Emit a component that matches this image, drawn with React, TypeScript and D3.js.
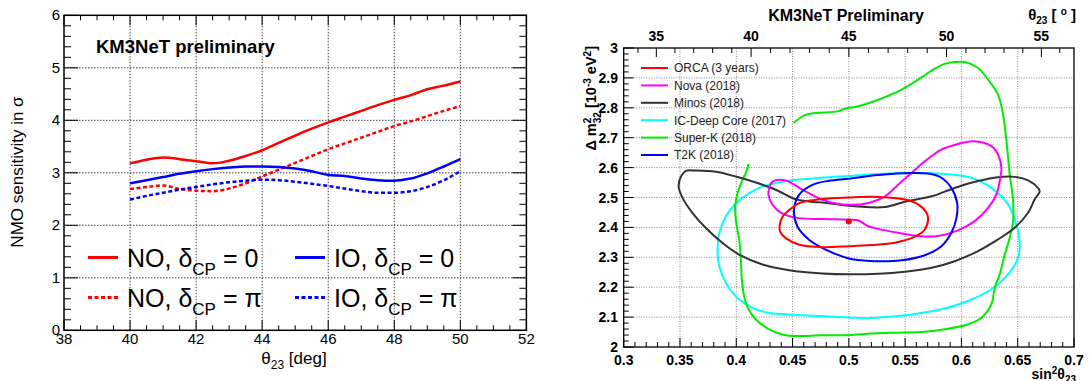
import React from 'react';
import * as d3 from 'd3';

const FONT = 'Liberation Sans, Arial, Helvetica, sans-serif';

// ---------- Left panel data ----------
const thetaGrid = [40, 40.5, 41, 41.5, 42, 42.5, 43, 43.5, 44, 44.5, 45, 45.5, 46, 46.5, 47, 47.5, 48, 48.5, 49, 49.5, 50];
const noDelta0 = [3.18, 3.25, 3.29, 3.26, 3.22, 3.18, 3.23, 3.32, 3.43, 3.57, 3.71, 3.84, 3.96, 4.07, 4.18, 4.29, 4.39, 4.48, 4.59, 4.66, 4.74];
const noDeltaPi = [2.69, 2.73, 2.76, 2.69, 2.66, 2.65, 2.7, 2.8, 2.93, 3.06, 3.19, 3.32, 3.45, 3.56, 3.67, 3.78, 3.89, 3.98, 4.08, 4.18, 4.27];
const ioDelta0 = [2.8, 2.86, 2.92, 2.98, 3.03, 3.07, 3.1, 3.12, 3.12, 3.11, 3.08, 3.03, 2.96, 2.94, 2.89, 2.86, 2.85, 2.89, 2.99, 3.12, 3.26];
const ioDeltaPi = [2.49, 2.56, 2.62, 2.68, 2.73, 2.78, 2.82, 2.85, 2.87, 2.86, 2.83, 2.79, 2.75, 2.7, 2.65, 2.62, 2.62, 2.65, 2.73, 2.86, 3.03];
const leftXTicks = [38, 40, 42, 44, 46, 48, 50, 52];
const leftYTicks = [0, 1, 2, 3, 4, 5, 6];

// ---------- Right panel data ----------
const orcaContour: [number, number][] = [
  [0.4386, 2.409], [0.441, 2.435], [0.447, 2.458], [0.456, 2.481], [0.476, 2.495], [0.5, 2.5], [0.526, 2.502],
  [0.55, 2.493], [0.5615, 2.477], [0.569, 2.449], [0.5704, 2.427], [0.5675, 2.393], [0.5586, 2.369], [0.541, 2.349],
  [0.52, 2.341], [0.5, 2.337], [0.476, 2.334], [0.456, 2.342], [0.444, 2.364], [0.439, 2.385],
];
const novaContour: [number, number][] = [
  [0.4286, 2.509], [0.4292, 2.531], [0.4321, 2.553], [0.4439, 2.557], [0.4587, 2.526], [0.4764, 2.492], [0.4912, 2.478],
  [0.5, 2.476], [0.514, 2.479], [0.532, 2.504], [0.5438, 2.543], [0.5556, 2.582], [0.5675, 2.621], [0.5822, 2.66],
  [0.597, 2.679], [0.6104, 2.688], [0.6266, 2.672], [0.6325, 2.644], [0.6355, 2.599], [0.634, 2.555], [0.631, 2.51],
  [0.6237, 2.465], [0.6118, 2.421], [0.597, 2.39], [0.5793, 2.371], [0.5615, 2.371], [0.5438, 2.382], [0.526, 2.395],
  [0.5172, 2.404], [0.508, 2.424], [0.5, 2.426], [0.4764, 2.428], [0.4558, 2.431], [0.441, 2.446], [0.4321, 2.476],
];
const minosContour: [number, number][] = [
  [0.3488, 2.537], [0.3509, 2.57], [0.3553, 2.589], [0.3642, 2.59], [0.3819, 2.586], [0.3996, 2.57], [0.4174, 2.55],
  [0.4351, 2.526], [0.4528, 2.494], [0.4646, 2.487], [0.4823, 2.481], [0.5, 2.472], [0.532, 2.468], [0.5497, 2.486],
  [0.5734, 2.504], [0.594, 2.532], [0.6148, 2.555], [0.6325, 2.568], [0.6473, 2.569], [0.6592, 2.557], [0.668, 2.532],
  [0.6695, 2.521], [0.665, 2.493], [0.6592, 2.449], [0.6473, 2.399], [0.6325, 2.36], [0.6148, 2.321], [0.594, 2.287],
  [0.5734, 2.265], [0.5497, 2.252], [0.526, 2.245], [0.5, 2.243], [0.4764, 2.246], [0.4469, 2.257], [0.4233, 2.276],
  [0.4026, 2.309], [0.3878, 2.348], [0.373, 2.398], [0.3612, 2.448], [0.3524, 2.498],
];
const deepCoreContour: [number, number][] = [
  [0.3834, 2.326], [0.3849, 2.381], [0.3908, 2.437], [0.3996, 2.481], [0.4114, 2.514], [0.4233, 2.537], [0.441, 2.553],
  [0.4587, 2.561], [0.4823, 2.568], [0.5, 2.572], [0.526, 2.579], [0.5556, 2.582], [0.5852, 2.579], [0.6089, 2.566],
  [0.6266, 2.532], [0.6414, 2.477], [0.6488, 2.41], [0.6518, 2.343], [0.6503, 2.298], [0.6414, 2.243], [0.6266, 2.193],
  [0.6059, 2.154], [0.5822, 2.126], [0.5556, 2.109], [0.532, 2.1], [0.5142, 2.096], [0.5, 2.099], [0.4764, 2.103],
  [0.4469, 2.109], [0.4292, 2.114], [0.4144, 2.131], [0.4011, 2.164], [0.3908, 2.214], [0.3849, 2.27],
];
const superKCurve: [number, number][] = [
  [0.451, 2.749], [0.462, 2.777], [0.49, 2.788], [0.4964, 2.797], [0.5083, 2.805], [0.526, 2.827], [0.5438, 2.855],
  [0.5615, 2.894], [0.5763, 2.931], [0.5852, 2.947], [0.5941, 2.953], [0.603, 2.953], [0.6148, 2.933], [0.6237, 2.894],
  [0.6325, 2.844], [0.637, 2.777], [0.64, 2.688], [0.6429, 2.577], [0.6459, 2.488], [0.6459, 2.421], [0.6429, 2.365],
  [0.6385, 2.31], [0.634, 2.243], [0.6296, 2.198], [0.6266, 2.143], [0.6178, 2.098], [0.6059, 2.076], [0.5852, 2.059],
  [0.5675, 2.051], [0.5408, 2.048], [0.5201, 2.045], [0.5, 2.04], [0.4764, 2.039], [0.4498, 2.037], [0.441, 2.042],
  [0.4292, 2.059], [0.4174, 2.092], [0.4109, 2.126], [0.407, 2.17], [0.4049, 2.226], [0.4041, 2.292], [0.4026, 2.359],
  [0.3996, 2.426], [0.399, 2.47], [0.4011, 2.514], [0.4055, 2.559], [0.409, 2.587], [0.4109, 2.612],
];
const t2kContour: [number, number][] = [
  [0.4513, 2.459], [0.4558, 2.509], [0.4676, 2.542], [0.4823, 2.556], [0.5, 2.563], [0.526, 2.575], [0.5556, 2.582],
  [0.5704, 2.58], [0.5822, 2.566], [0.5911, 2.532], [0.5962, 2.482], [0.5956, 2.432], [0.5911, 2.382], [0.5822, 2.337],
  [0.5675, 2.307], [0.5467, 2.29], [0.523, 2.287], [0.508, 2.291], [0.5, 2.296], [0.4794, 2.326], [0.4646, 2.359],
  [0.4543, 2.403],
];
const bestFit: [number, number] = [0.5, 2.42];
const rightXTicks = [0.3, 0.35, 0.4, 0.45, 0.5, 0.55, 0.6, 0.65, 0.7];
const rightXTickLabels = ['0.3', '0.35', '0.4', '0.45', '0.5', '0.55', '0.6', '0.65', '0.7'];
const rightYTicks = [2, 2.1, 2.2, 2.3, 2.4, 2.5, 2.6, 2.7, 2.8, 2.9, 3];
const rightYTickLabels = ['2', '2.1', '2.2', '2.3', '2.4', '2.5', '2.6', '2.7', '2.8', '2.9', '3'];
const thetaTopTicks = [35, 40, 45, 50, 55];
const legendNames = ['ORCA (3 years)', 'Nova (2018)', 'Minos (2018)', 'IC-Deep Core (2017)', 'Super-K (2018)', 'T2K (2018)'];
const legendColors = ['#ff0000', '#ff00ff', '#333333', '#00ffff', '#00ee00', '#0000ff'];

export default function App() {
  // Left panel scales
  const xL = d3.scaleLinear().domain([38, 52]).range([64, 526.4]);
  const yL = d3.scaleLinear().domain([0, 6]).range([330.3, 15.3]);
  const lineL = d3.line<number>().x((_, i) => xL(thetaGrid[i])).y((d) => yL(d)).curve(d3.curveMonotoneX);

  // Right panel scales
  const xR = d3.scaleLinear().domain([0.3, 0.7]).range([623.7, 1074]);
  const yR = d3.scaleLinear().domain([2, 3]).range([347, 48]);
  const closed = d3.line<[number, number]>().x((d) => xR(d[0])).y((d) => yR(d[1])).curve(d3.curveCatmullRomClosed.alpha(0.5));
  const open = d3.line<[number, number]>().x((d) => xR(d[0])).y((d) => yR(d[1])).curve(d3.curveCatmullRom.alpha(0.5));
  const thetaToX = (deg: number) => xR(Math.pow(Math.sin((deg * Math.PI) / 180), 2));

  const [lx0, lx1] = xL.range();
  const [ly0, ly1] = yL.range();
  const [rx0, rx1] = xR.range();
  const [ry0, ry1] = yR.range();

  const leftMinorX = d3.range(38, 52.001, 0.5);
  const leftMinorY = d3.range(0, 6.001, 0.2);
  const rightMinorX = d3.range(0.3, 0.7001, 0.01);
  const rightMinorY = d3.range(2, 3.0001, 0.02);
  const thetaMinor = d3.range(34, 57, 1).filter((t) => thetaToX(t) >= rx0 && thetaToX(t) <= rx1);

  const leftSeries = [
    { data: noDelta0, color: '#ff0000', dash: undefined },
    { data: noDeltaPi, color: '#ff0000', dash: '4,2.5' },
    { data: ioDelta0, color: '#0000ff', dash: undefined },
    { data: ioDeltaPi, color: '#0000ff', dash: '4,2.5' },
  ];

  const rightCurves = [
    { d: closed(deepCoreContour), color: legendColors[3] },
    { d: open(superKCurve), color: legendColors[4] },
    { d: closed(minosContour), color: legendColors[2] },
    { d: closed(novaContour), color: legendColors[1] },
    { d: closed(t2kContour), color: legendColors[5] },
    { d: closed(orcaContour), color: legendColors[0] },
  ];

  const legRows = [
    { y: 257.5, label: 'NO', color: '#ff0000', dash: undefined, sym: '0', x: 88 },
    { y: 297.6, label: 'NO', color: '#ff0000', dash: '4,2.5', sym: 'π', x: 88 },
    { y: 257.5, label: 'IO', color: '#0000ff', dash: undefined, sym: '0', x: 295 },
    { y: 297.6, label: 'IO', color: '#0000ff', dash: '4,2.5', sym: 'π', x: 295 },
  ];

  return (
    <svg width={1089} height={381} style={{ position: 'absolute', left: 0, top: 0, background: '#fff' }} fontFamily={FONT}>
      <rect x={0} y={0} width={1089} height={381} fill="#fff" />
      {/* ================= LEFT PANEL ================= */}
      <g>
        {leftXTicks.slice(1, -1).map((t) => (
          <line key={'lgx' + t} x1={xL(t)} x2={xL(t)} y1={ly0} y2={ly1} stroke="#444" strokeWidth={1} strokeDasharray="1.5,1.5" />
        ))}
        {leftYTicks.slice(1, -1).map((t) => (
          <line key={'lgy' + t} x1={lx0} x2={lx1} y1={yL(t)} y2={yL(t)} stroke="#444" strokeWidth={1} strokeDasharray="1.5,1.5" />
        ))}
        {leftMinorX.map((t) => {
          const major = Math.abs(t - Math.round(t / 2) * 2) < 1e-6;
          const len = major ? 10 : 5;
          return (
            <g key={'ltx' + t}>
              <line x1={xL(t)} x2={xL(t)} y1={ly0} y2={ly0 - len} stroke="#000" strokeWidth={1} />
              <line x1={xL(t)} x2={xL(t)} y1={ly1} y2={ly1 + len} stroke="#000" strokeWidth={1} />
            </g>
          );
        })}
        {leftMinorY.map((t) => {
          const major = Math.abs(t - Math.round(t)) < 1e-6;
          const len = major ? 14 : 7;
          return (
            <g key={'lty' + t}>
              <line x1={lx0} x2={lx0 + len} y1={yL(t)} y2={yL(t)} stroke="#000" strokeWidth={1} />
              <line x1={lx1} x2={lx1 - len} y1={yL(t)} y2={yL(t)} stroke="#000" strokeWidth={1} />
            </g>
          );
        })}
        {leftSeries.map((s, i) => (
          <path key={'ls' + i} d={lineL(s.data) || ''} fill="none" stroke={s.color} strokeWidth={2.5} strokeDasharray={s.dash} />
        ))}
        <rect x={lx0} y={ly1} width={lx1 - lx0} height={ly0 - ly1} fill="none" stroke="#000" strokeWidth={1.5} />
        {leftXTicks.map((t) => (
          <text key={'lxl' + t} x={xL(t)} y={344} fontSize={15} textAnchor="middle" fill="#000">{t}</text>
        ))}
        {leftYTicks.map((t) => (
          <text key={'lyl' + t} x={60} y={yL(t) + 5} fontSize={15} textAnchor="end" fill="#000">{t}</text>
        ))}
        <text x={294} y={364} fontSize={17} textAnchor="middle" fill="#000">
          <tspan>θ</tspan>
          <tspan dy={5} fontSize={12}>23</tspan>
          <tspan dy={-5}> [deg]</tspan>
        </text>
        <text transform="translate(23,172) rotate(-90)" fontSize={17} textAnchor="middle" fill="#000">NMO sensitivity in σ</text>
        <text x={96} y={53} fontSize={18.5} fontWeight="bold" fill="#000">KM3NeT preliminary</text>
        {legRows.map((r, i) => (
          <g key={'lg' + i}>
            <line x1={r.x} x2={r.x + 30} y1={r.y} y2={r.y} stroke={r.color} strokeWidth={3} strokeDasharray={r.dash} />
            <text x={r.x + 39} y={r.y + 9} fontSize={25} fill="#000">
              <tspan>{r.label}, δ</tspan>
              <tspan dy={8} fontSize={17}>CP</tspan>
              <tspan dy={-8}> = {r.sym}</tspan>
            </text>
          </g>
        ))}
      </g>

      {/* ================= RIGHT PANEL ================= */}
      <g>
        {rightXTicks.slice(1, -1).map((t) => (
          <line key={'rgx' + t} x1={xR(t)} x2={xR(t)} y1={ry0} y2={ry1} stroke="#888" strokeWidth={1} strokeDasharray="1,1.5" />
        ))}
        {rightYTicks.slice(1, -1).map((t) => (
          <line key={'rgy' + t} x1={rx0} x2={rx1} y1={yR(t)} y2={yR(t)} stroke="#888" strokeWidth={1} strokeDasharray="1,1.5" />
        ))}
        {rightMinorX.map((t) => {
          const major = Math.abs(t * 20 - Math.round(t * 20)) < 1e-6;
          const len = major ? 9 : 5;
          return <line key={'rtx' + t} x1={xR(t)} x2={xR(t)} y1={ry0} y2={ry0 - len} stroke="#000" strokeWidth={1} />;
        })}
        {rightMinorY.map((t) => {
          const major = Math.abs(t * 10 - Math.round(t * 10)) < 1e-6;
          const len = major ? 10 : 5;
          return <line key={'rty' + t} x1={rx0} x2={rx0 + len} y1={yR(t)} y2={yR(t)} stroke="#000" strokeWidth={1} />;
        })}
        {thetaMinor.map((t) => {
          const len = t % 5 === 0 ? 9 : 5;
          return <line key={'rtt' + t} x1={thetaToX(t)} x2={thetaToX(t)} y1={ry1} y2={ry1 + len} stroke="#000" strokeWidth={1} />;
        })}
        {rightCurves.map((c, i) => (
          <path key={'rc' + i} d={c.d || ''} fill="none" stroke={c.color} strokeWidth={2} strokeLinejoin="round" />
        ))}
        <circle cx={xR(bestFit[0])} cy={yR(bestFit[1])} r={3} fill="#ff0000" />
        <rect x={rx0} y={ry1} width={rx1 - rx0} height={ry0 - ry1} fill="none" stroke="#000" strokeWidth={1.3} />
        {rightXTicks.map((t, i) => (
          <text key={'rxl' + t} x={xR(t)} y={365} fontSize={14} fontWeight="bold" textAnchor="middle" fill="#000">{rightXTickLabels[i]}</text>
        ))}
        {rightYTicks.map((t, i) => (
          <text key={'ryl' + t} x={618} y={yR(t) + 5} fontSize={14} fontWeight="bold" textAnchor="end" fill="#000">{rightYTickLabels[i]}</text>
        ))}
        {thetaTopTicks.map((t) => (
          <text key={'rtl' + t} x={thetaToX(t)} y={41} fontSize={14} fontWeight="bold" textAnchor="middle" fill="#000">{t}</text>
        ))}
        <text x={846} y={21} fontSize={16} fontWeight="bold" textAnchor="middle" fill="#000">KM3NeT Preliminary</text>
        <text x={1076} y={20} fontSize={15} fontWeight="bold" textAnchor="end" fill="#000">
          <tspan>θ</tspan>
          <tspan dy={4} fontSize={10}>23</tspan>
          <tspan dy={-4}> [ </tspan>
          <tspan dy={-5} fontSize={10}>o</tspan>
          <tspan dy={5}> ]</tspan>
        </text>
        <text x={1076} y={379} fontSize={14} fontWeight="bold" textAnchor="end" fill="#000">
          <tspan>sin</tspan>
          <tspan dy={-5} fontSize={10}>2</tspan>
          <tspan dy={5}>θ</tspan>
          <tspan dy={4} fontSize={10}>23</tspan>
        </text>
        <text transform="translate(596,46) rotate(-90)" fontSize={14.5} fontWeight="bold" textAnchor="end" fill="#000">
          <tspan>Δ m</tspan>
          <tspan dy={-5} fontSize={10}>2</tspan>
          <tspan dx={-5.5} dy={10} fontSize={10}>32</tspan>
          <tspan dy={-5}> [10</tspan>
          <tspan dy={-5} fontSize={10}>-3</tspan>
          <tspan dy={5}> eV</tspan>
          <tspan dy={-5} fontSize={10}>2</tspan>
          <tspan dy={5}>]</tspan>
        </text>
        {legendNames.map((n, i) => {
          const y = 68 + i * 17.4;
          return (
            <g key={'rl' + i}>
              <line x1={641} x2={668} y1={y} y2={y} stroke={legendColors[i]} strokeWidth={2} />
              <text x={674} y={y + 4.3} fontSize={12} fill="#222">{n}</text>
            </g>
          );
        })}
      </g>
    </svg>
  );
}
